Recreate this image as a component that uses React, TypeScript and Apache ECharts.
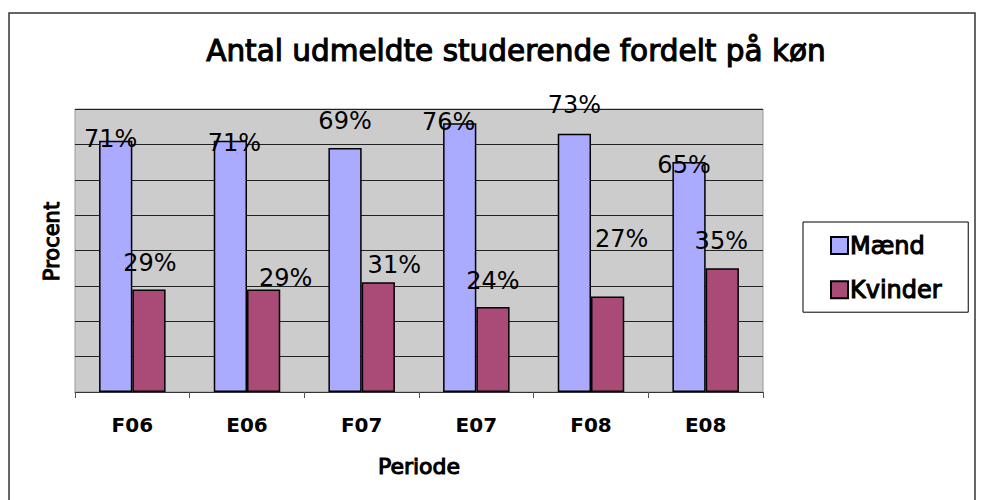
import React, { useEffect, useRef } from "react";
import * as echarts from "echarts";

const categories = ["F06", "E06", "F07", "E07", "F08", "E08"];
const maend = [71, 71, 69, 76, 73, 65];
const kvinder = [29, 29, 31, 24, 27, 35];
const yTicks = { min: 0, max: 80, interval: 10 };

// label placement offsets (as positioned in the original chart)
const maendLabelOffsets = [[-5, 10], [4, 14], [0, -15], [-11, 11], [0, -17], [-5, 15]];
const kvinderLabelOffsets = [[1, -14], [22, 1], [16, -5], [0, -14], [14, -45], [-1, -15]];

const FONT = "'DejaVu Sans', Verdana, sans-serif";
const MEDIUM = { fontWeight: "normal", textBorderColor: "#000", textBorderWidth: 1.1 };

export default function App() {
  const ref = useRef<HTMLDivElement>(null);
  useEffect(() => {
    if (!ref.current) return;
    const chart = echarts.init(ref.current, null, { renderer: "svg" });
    const labelBase = {
      show: true,
      position: "top",
      distance: 0,
      formatter: "{c}%",
      fontSize: 24,
      fontFamily: FONT,
      color: "#000",
    };
    chart.setOption({
      animation: false,
      backgroundColor: "#fff",
      title: {
        text: "Antal udmeldte studerende fordelt på køn",
        left: 511,
        top: 31,
        textAlign: "center",
        textStyle: { fontSize: 29.5, fontFamily: FONT, color: "#000", ...MEDIUM },
      },
      legend: {
        orient: "vertical",
        left: 803,
        top: 222,
        padding: [11, 26, 10, 27],
        itemGap: 19,
        itemWidth: 17,
        itemHeight: 17,
        borderColor: "#000",
        borderWidth: 1,
        icon: "rect",
        textStyle: { fontSize: 24, fontFamily: FONT, color: "#000", padding: [0, 0, 0, -3], ...MEDIUM },
        data: ["Mænd", "Kvinder"],
      },
      graphic: [
        {
          type: "rect",
          z: -10,
          shape: { x: 9, y: 13, width: 966, height: 500 },
          style: { fill: "none", stroke: "#333", lineWidth: 1.5 },
        },
      ],
      grid: {
        left: 75,
        right: 223,
        top: 109,
        bottom: 108,
        show: true,
        backgroundColor: "#CCCCCC",
        borderColor: "#999",
        borderWidth: 1,
      },
      xAxis: {
        type: "category",
        data: categories,
        name: "Periode",
        nameLocation: "middle",
        nameGap: 63,
        nameTextStyle: { fontSize: 22, fontFamily: FONT, color: "#000", ...MEDIUM },
        axisLine: { lineStyle: { color: "#333", width: 1 } },
        axisTick: { show: true, length: 6, lineStyle: { color: "#555" } },
        axisLabel: { fontSize: 20, fontWeight: "bold", fontFamily: FONT, color: "#000", margin: 23 },
      },
      yAxis: {
        type: "value",
        min: yTicks.min,
        max: yTicks.max,
        interval: yTicks.interval,
        name: "Procent",
        nameLocation: "middle",
        nameGap: 13,
        nameTextStyle: { fontSize: 21, fontFamily: FONT, color: "#000", padding: [0, 0, 0, 18], ...MEDIUM },
        axisLabel: { show: false },
        axisTick: { show: false },
        axisLine: { show: false },
        splitLine: { lineStyle: { color: "#222", width: 1 } },
      },
      series: [
        {
          name: "Mænd",
          type: "bar",
          barGap: "0%",
          barCategoryGap: "42%",
          itemStyle: { color: "#AAAAFF", borderColor: "#000", borderWidth: 1.5 },
          label: labelBase,
          data: maend.map((v, i) => ({ value: v, label: { offset: maendLabelOffsets[i] } })),
        },
        {
          name: "Kvinder",
          type: "bar",
          barGap: "0%",
          barCategoryGap: "42%",
          itemStyle: { color: "#AA4A77", borderColor: "#000", borderWidth: 1.5 },
          label: labelBase,
          data: kvinder.map((v, i) => ({ value: v, label: { offset: kvinderLabelOffsets[i] } })),
        },
      ],
    });
    return () => chart.dispose();
  }, []);
  return (
    <div
      ref={ref}
      style={{ position: "fixed", left: 0, top: 0, width: 986, height: 500 }}
    />
  );
}
